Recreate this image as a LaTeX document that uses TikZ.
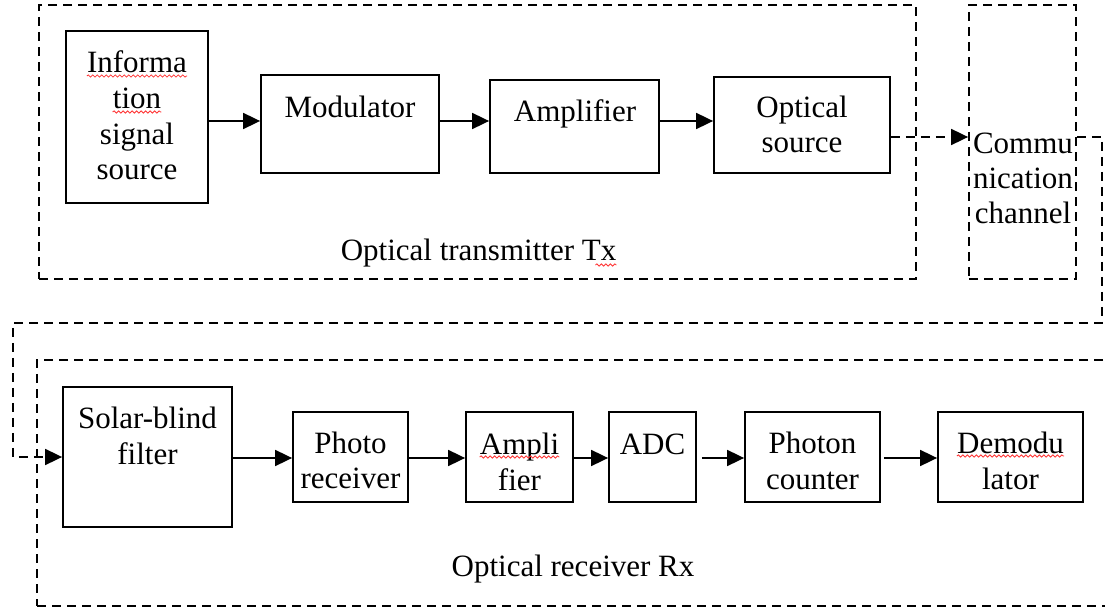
\documentclass[tikz,border=0pt]{standalone}
\usepackage{fontspec}
\setmainfont{Liberation Serif}
\usetikzlibrary{arrows.meta,decorations.pathmorphing}
\begin{document}
\begin{tikzpicture}[x=1pt,y=-1pt,
  blockbox/.style={draw=black,line width=1.8pt,rectangle,inner sep=0pt},
  frame/.style={draw=black,line width=1.8pt,dash pattern=on 9pt off 6pt,rectangle,inner sep=0pt},
  txt/.style={anchor=base,inner sep=0pt,font=\fontsize{31}{35}\selectfont},
  arr/.style={line width=1.8pt,-{Triangle[length=17pt,width=16pt]}},
  dconn/.style={line width=1.8pt,dash pattern=on 9pt off 6pt,-{Triangle[length=17pt,width=16pt]}},
  squig/.style={draw=red!80,line width=0.8pt,decorate,decoration={snake,segment length=4.5pt,amplitude=1.1pt}}]
\useasboundingbox (0,0) rectangle (1105,609);
\clip (0,0) rectangle (1105,609);

% dashed frames
\node[frame,minimum width=877pt,minimum height=274pt] (tx) at (477.5,142) {};
\node[frame,minimum width=107pt,minimum height=274pt] (ch) at (1022.5,142) {};
\node[frame,minimum width=1100pt,minimum height=246pt] (rx) at (587,483) {};

% transmitter blocks
\node[blockbox,minimum width=142pt,minimum height=172pt] (info) at (137,117) {};
\node[blockbox,minimum width=178pt,minimum height=98pt] (mod) at (350,124) {};
\node[blockbox,minimum width=169pt,minimum height=93pt] (amp) at (574.5,126.5) {};
\node[blockbox,minimum width=176pt,minimum height=96pt] (opt) at (802,125) {};

% receiver blocks
\node[blockbox,minimum width=169pt,minimum height=140pt] (filt) at (147.5,457) {};
\node[blockbox,minimum width=115pt,minimum height=90pt] (phr) at (350.5,457) {};
\node[blockbox,minimum width=107pt,minimum height=90pt] (ramp) at (519.5,457) {};
\node[blockbox,minimum width=87pt,minimum height=90pt] (adc) at (652.5,457) {};
\node[blockbox,minimum width=135pt,minimum height=90pt] (cnt) at (812.5,457) {};
\node[blockbox,minimum width=145pt,minimum height=90pt] (dem) at (1010.5,457) {};

% block texts
\node[txt] (info1) at (137,73) {Informa};
\node[txt] (info2) at (137,109) {tion};
\node[txt] (info3) at (137,145) {signal};
\node[txt] (info4) at (137,180) {source};
\node[txt] (modt) at (350,118) {Modulator};
\node[txt] (ampt) at (575,122) {Amplifier};
\node[txt] (opt1) at (802,118) {Optical};
\node[txt] (opt2) at (802,153) {source};
\node[txt] (ch1) at (1023,154) {Commu};
\node[txt] (ch2) at (1023,189) {nication};
\node[txt] (ch3) at (1023,224) {channel};
\node[txt] (txl) at (478.5,261) {Optical transmitter Tx};

\node[txt] (filt1) at (147.5,428) {Solar-blind};
\node[txt] (filt2) at (147.5,464) {filter};
\node[txt] (phr1) at (350.5,453) {Photo};
\node[txt] (phr2) at (350.5,488) {receiver};
\node[txt] (ramp1) at (519.5,454) {Ampli};
\node[txt] (ramp2) at (519.5,490) {fier};
\node[txt] (adct) at (652.5,454) {ADC};
\node[txt] (cnt1) at (812.5,453) {Photon};
\node[txt] (cnt2) at (812.5,489) {counter};
\node[txt] (dem1) at (1010.5,453) {Demodu};
\node[txt] (dem2) at (1010.5,489) {lator};
\node[txt] (rxl) at (573,576) {Optical receiver Rx};

% spelling marks under some words
\draw[squig] ([yshift=-3pt]info1.base west) -- ([yshift=-3pt]info1.base east);
\draw[squig] ([yshift=-3pt]info2.base west) -- ([yshift=-3pt]info2.base east);
\draw[squig] ([xshift=-21pt,yshift=-4pt]txl.base east) -- ([yshift=-4pt]txl.base east);
\draw[squig] ([yshift=-3pt]ramp1.base west) -- ([yshift=-3pt]ramp1.base east);
\draw[squig] ([yshift=-3pt]dem1.base west) -- ([yshift=-3pt]dem1.base east);

% signal flow in the transmitter
\coordinate (ty) at (0,121);
\draw[arr] (info.east |- ty) -- (mod.west |- ty);
\draw[arr] (mod.east |- ty) -- (amp.west |- ty);
\draw[arr] (amp.east |- ty) -- (opt.west |- ty);

% optical path through the channel
\coordinate (cy) at (0,137);
\coordinate (k1) at (1102,323);
\coordinate (k2) at (13,323);
\draw[dconn] (opt.east |- cy) -- (ch.west |- cy);
\draw[dconn] (ch.east |- cy) -| (k1) -- (k2) |- (filt.west);

% signal flow in the receiver
\coordinate (ry) at (0,458);
\draw[arr] (filt.east |- ry) -- (phr.west |- ry);
\draw[arr] (phr.east |- ry) -- (ramp.west |- ry);
\draw[arr] (ramp.east |- ry) -- (adc.west |- ry);
\draw[arr,shorten <=5pt] (adc.east |- ry) -- (cnt.west |- ry);
\draw[arr,shorten <=3pt] (cnt.east |- ry) -- (dem.west |- ry);
\end{tikzpicture}
\end{document}
